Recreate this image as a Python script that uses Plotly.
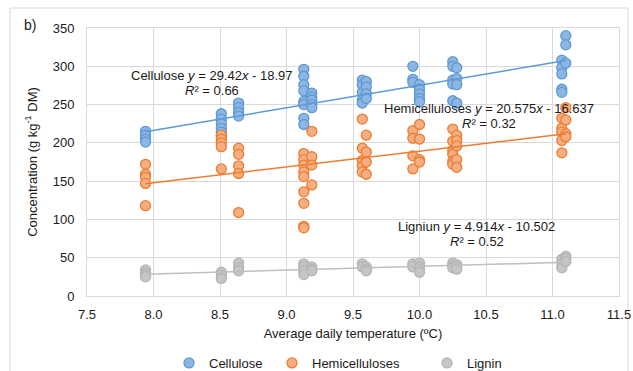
import plotly.graph_objects as go

# ---- data ----
temps = [7.94, 8.51, 8.64, 9.13, 9.19, 9.57, 9.60, 9.95, 10.00, 10.25, 10.28, 11.07, 11.10]

cellulose = [
    [215, 210, 205, 201],
    [238, 231, 225, 219, 214, 209],
    [252, 246, 240, 235],
    [296, 287, 276, 268, 254, 250, 232, 224],
    [265, 260, 256, 250, 246],
    [282, 276, 266, 256, 252],
    [280, 273, 264, 258],
    [300, 283, 279],
    [276, 270, 264, 258, 254],
    [306, 300, 282, 277, 255],
    [298, 284, 276, 252],
    [308, 298, 290, 270, 266],
    [340, 328, 304],
]
hemicelluloses = [
    [172, 159, 155, 147, 118],
    [210, 205, 200, 195, 166],
    [193, 185, 170, 160, 109],
    [186, 178, 171, 162, 156, 136, 121, 91, 89],
    [215, 182, 171, 145],
    [231, 193, 177, 170, 162],
    [210, 188, 175, 159],
    [216, 206, 183, 166],
    [224, 205, 178, 175],
    [218, 202, 190, 185, 176, 172],
    [210, 203, 196, 178, 168],
    [232, 219, 214, 203, 187],
    [246, 230, 212, 208],
]
lignin = [
    [34, 30, 27, 25],
    [31, 27, 23],
    [43, 37, 33],
    [42, 38, 33, 28],
    [38, 35, 33],
    [42, 38],
    [38, 35, 33],
    [42, 38],
    [43, 38, 34, 31],
    [43, 40, 37],
    [41, 38, 35],
    [48, 42, 37],
    [52, 49, 45],
]

series_names = ["Cellulose", "Hemicelluloses", "Lignin"]
trend_slopes = [29.42, 20.575, 4.914]
trend_intercepts = [-18.97, -16.637, -10.502]
trend_r2 = ["0.66", "0.32", "0.52"]
trend_labels = ["Cellulose", "Hemicelluloses", "Ligniun"]
x_ticks = [7.5, 8.0, 8.5, 9.0, 9.5, 10.0, 10.5, 11.0, 11.5]
y_ticks = [0, 50, 100, 150, 200, 250, 300, 350]

# ---- styles ----
FONT = "Liberation Sans, Arial, sans-serif"
TXT = "#1a1a1a"
FS = 13
fills = ["#8FB5E2", "#F4AE82", "#C6C6C6"]
edges = ["#5B9BD5", "#ED7D31", "#B5B5B5"]
lines = ["#5B9BD5", "#ED7D31", "#BFBFBF"]


def flatten(groups):
    xs, ys = [], []
    for t, vals in zip(temps, groups):
        for v in vals:
            xs.append(t)
            ys.append(v)
    return xs, ys


fig = go.Figure()
legends = ["legend", "legend2", "legend3"]
for i, grp in enumerate([cellulose, hemicelluloses, lignin]):
    xs, ys = flatten(grp)
    fig.add_trace(go.Scatter(
        x=xs, y=ys, mode="markers", name=series_names[i],
        legend=legends[i],
        marker=dict(size=10, color=fills[i], line=dict(color=edges[i], width=1.3)),
    ))

xmin, xmax = min(temps), max(temps)
for i in range(3):
    fig.add_trace(go.Scatter(
        x=[xmin, xmax],
        y=[trend_slopes[i] * xmin + trend_intercepts[i], trend_slopes[i] * xmax + trend_intercepts[i]],
        mode="lines", line=dict(color=lines[i], width=1.5), showlegend=False,
        hoverinfo="skip",
    ))

# trendline equation labels (position: x in data units, line 1 / line 2 y in data units)
eq_pos = [(8.44, 288.6, 269.0), (10.519, 244.9, 225.3), (10.432, 90.5, 70.9)]
for i, (ex, ey1, ey2) in enumerate(eq_pos):
    b = trend_intercepts[i]
    sign = "-" if b < 0 else "+"
    l1 = f"{trend_labels[i]} <i>y</i> = {trend_slopes[i]}<i>x</i> {sign} {abs(b)}"
    l2 = f"<i>R</i>² = {trend_r2[i]}"
    fig.add_annotation(x=ex, y=ey1, text=l1, showarrow=False, xanchor="center", yanchor="middle",
                       font=dict(size=FS, color=TXT, family=FONT))
    fig.add_annotation(x=ex, y=ey2, text=l2, showarrow=False, xanchor="center", yanchor="middle",
                       font=dict(size=FS, color=TXT, family=FONT))

# panel label
fig.add_annotation(xref="paper", yref="paper", x=(30 - 87) / 532, y=(296 - 25) / 268,
                   text="b)", showarrow=False, xanchor="center", yanchor="middle",
                   font=dict(size=14, color=TXT, family=FONT))

# outer chart border
fig.add_shape(type="rect", xref="paper", yref="paper",
              x0=(10 - 87) / 532, x1=(628 - 87) / 532,
              y0=(296 - 390) / 268, y1=(296 - 8) / 268,
              line=dict(color="#D9D9D9", width=1), fillcolor="rgba(0,0,0,0)", layer="below")

leg_common = dict(orientation="h", yanchor="middle", xanchor="left",
                  xref="container", yref="container", y=1 - 363 / 371,
                  font=dict(size=FS, color=TXT, family=FONT), bgcolor="rgba(0,0,0,0)",
                  itemwidth=30, tracegroupgap=0)
leg_px = [169, 272, 427]
fig.update_layout(
    width=633, height=371,
    margin=dict(l=87, r=14, t=28, b=75),
    paper_bgcolor="white", plot_bgcolor="white",
    font=dict(family=FONT, size=FS, color=TXT),
    legend=dict(**leg_common, x=leg_px[0] / 633),
    legend2=dict(**leg_common, x=leg_px[1] / 633),
    legend3=dict(**leg_common, x=leg_px[2] / 633),
    xaxis=dict(range=[7.5, 11.5], tickvals=x_ticks, ticktext=[f"{v:.1f}" for v in x_ticks],
               showgrid=True, gridcolor="#D9D9D9", gridwidth=1, zeroline=False,
               showline=True, linecolor="#D9D9D9", mirror=True, ticks="",
               ticklabelstandoff=6, automargin=False,
               title=dict(text="Average daily temperature (ºC)", standoff=8,
                          font=dict(size=FS, color=TXT, family=FONT)),
               tickfont=dict(size=FS, color=TXT, family=FONT)),
    yaxis=dict(range=[0, 350], tickvals=y_ticks,
               showgrid=True, gridcolor="#D9D9D9", gridwidth=1, zeroline=False,
               showline=True, linecolor="#D9D9D9", mirror=True, ticks="",
               ticklabelstandoff=9, automargin=False,
               title=dict(text="Concentration (g kg<sup>-1</sup> DM)", standoff=12,
                          font=dict(size=FS, color=TXT, family=FONT)),
               tickfont=dict(size=FS, color=TXT, family=FONT)),
    showlegend=True,
)

fig.write_html("out.html")
